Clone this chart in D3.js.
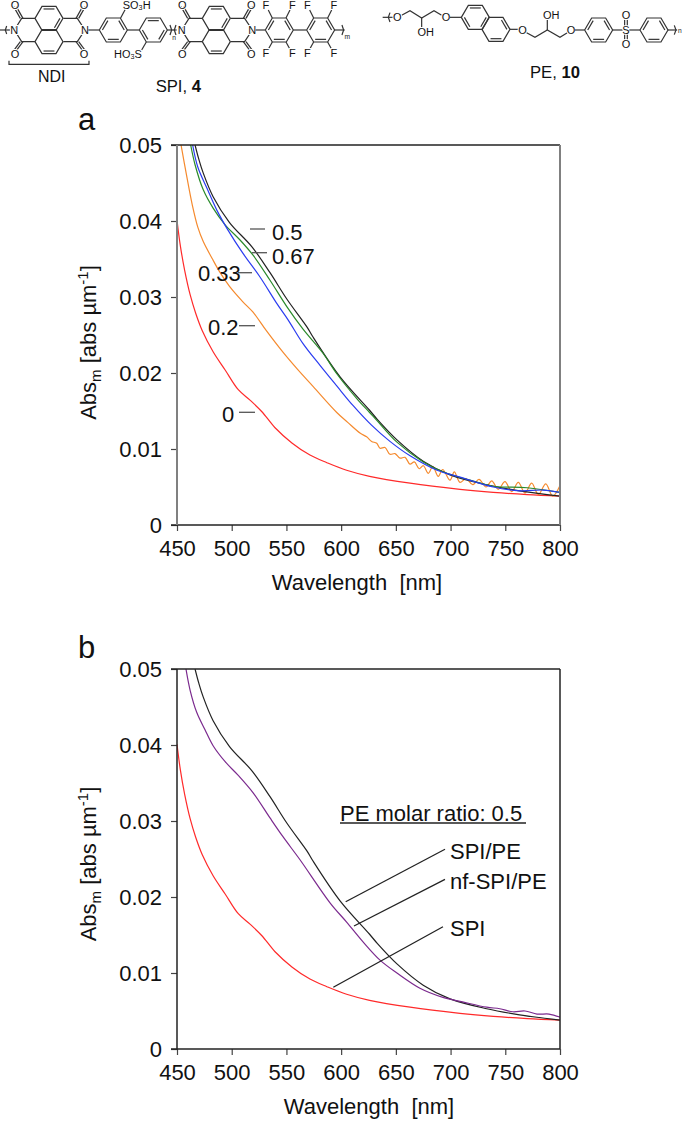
<!DOCTYPE html>
<html>
<head>
<meta charset="utf-8">
<script src="https://cdn.jsdelivr.net/npm/d3@7"></script>
<style>
html, body { margin: 0; padding: 0; background: #fff; }
text { font-family: "Liberation Sans", Arial, sans-serif; fill: #111; white-space: pre; }
</style>
</head>
<body>
<svg id="fig" width="683" height="1121"></svg>
<script>
// values: wavelength [nm] and abs per um
var wl_0 = [450, 453, 457, 462, 467, 473, 483, 494, 506, 517, 527.6, 539.6, 555, 571.5, 587, 605, 626, 663, 708.6, 739, 770, 800];
var abs_0 = [.0401, .0368, .0335, .0303, .0279, .0256, .0228, .0204, .0178, .0164, .0149, .0128, .0108, .0092, .0082, .0072, .0064, .0055, .0047, .0043, .004, .0038];

var wl_02 = [453.7, 459, 464, 469, 474, 482, 489, 498, 510, 519.5, 532, 547, 560, 574.5, 596, 606, 617.2, 623.3, 627.9, 632.5, 635.5, 640.1, 644.6, 649.2, 653.8, 658.4, 662.9, 666.9, 671.4, 675.1, 679.7, 683.7, 688.8, 692.8, 699.5, 703.4, 708.6, 714.1, 720.2, 726, 732.4, 737.6, 743.6, 749.7, 755.9, 761.9, 768, 774.1, 780.2, 787, 793.3, 800];
var abs_02 = [.05, .0458, .0421, .0392, .0373, .0351, .0333, .0314, .0294, .028, .0255, .0227, .0205, .0182, .0148, .0135, .0121, .0116, .011, .01075, .0101, .0102, .0093, .0094, .0088, .0089, .008, .0083, .0074, .0078, .0068, .0077, .0064, .0073, .0059, .007, .0056, .0061, .0053, .006, .005, .0058, .0047, .0057, .0044, .0056, .0042, .0055, .004, .0054, .0038, .0052];

var wl_033 = [464.3, 469, 477.4, 486.5, 496.6, 510, 526, 541, 551.5, 565, 580.7, 596, 611, 628, 644.6, 663, 687.6, 708.6, 739, 763.4, 784.5, 800];
var abs_033 = [.05, .0471, .0443, .0414, .0388, .0358, .0326, .0292, .027, .0239, .021, .0183, .0157, .0131, .011, .0091, .0072, .0063, .005, .0045, .0046, .0043];

var wl_05 = [466.5, 470, 474, 483, 498, 518.5, 535, 550.5, 569, 574, 599, 626, 633, 651, 675, 699.5, 733, 763, 800];
var abs_05 = [.05, .0481, .0463, .0432, .0398, .0366, .0332, .0297, .026, .0248, .0195, .0151, .0139, .0112, .0084, .0066, .0053, .0045, .0038];

var wl_067 = [462.5, 466.5, 474, 483, 494, 507.6, 519.5, 535, 550.5, 565, 583.4, 596, 614.5, 626, 633, 651, 675, 693, 717.7, 739, 770, 800];
var abs_067 = [.05, .0474, .0441, .0417, .0395, .0375, .0355, .0322, .0287, .0258, .0226, .0199, .0166, .0148, .0137, .0109, .0083, .007, .0059, .0051, .0049, .0043];

var wl_nf = [458.2, 462, 468, 475.6, 483, 494, 506, 519.6, 535, 547, 562.4, 590, 605, 620, 635.5, 651, 672, 693, 711, 733, 745, 757, 768, 779, 790, 800];
var abs_nf = [.05, .0472, .0443, .042, .0399, .0378, .036, .0337, .0304, .0279, .0249, .0192, .0167, .0141, .0117, .01, .008, .0068, .0062, .0055, .0053, .0049, .005, .0046, .0046, .0042];

var xTicks = [450, 500, 550, 600, 650, 700, 750, 800];
var yTicks = [0, .01, .02, .03, .04, .05];

var seriesA = [
  { x: wl_0, y: abs_0, color: "#ff2a2a" },
  { x: wl_02, y: abs_02, color: "#f58a2e" },
  { x: wl_05, y: abs_05, color: "#222222" },
  { x: wl_067, y: abs_067, color: "#2a8a2a" },
  { x: wl_033, y: abs_033, color: "#2a3cf0" }
];
var seriesB = [
  { x: wl_0, y: abs_0, color: "#ff2a2a" },
  { x: wl_05, y: abs_05, color: "#222222" },
  { x: wl_nf, y: abs_nf, color: "#7b2a8e" }
];

var svg = d3.select("#fig");
var left = 177, right = 560;

function panel(top, bottom, axisColor, series, clipId) {
  var x = d3.scaleLinear().domain([450, 800]).range([left, right]);
  var y = d3.scaleLinear().domain([0, 0.05]).range([bottom, top]);
  var g = svg.append("g");

  g.append("clipPath").attr("id", clipId).append("rect")
    .attr("x", left).attr("y", top).attr("width", right - left).attr("height", bottom - top);

  var line = d3.line().curve(d3.curveCatmullRom.alpha(0.5))
    .x(function (d) { return x(d[0]); })
    .y(function (d) { return y(d[1]); });

  series.forEach(function (s) {
    g.append("path")
      .datum(d3.zip(s.x, s.y))
      .attr("d", line)
      .attr("fill", "none")
      .attr("stroke", s.color)
      .attr("stroke-width", 1.2)
      .attr("clip-path", "url(#" + clipId + ")");
  });

  var xAxis = d3.axisBottom(x).tickValues(xTicks).tickSize(6).tickPadding(9).tickFormat(d3.format("d"));
  var yAxis = d3.axisLeft(y).tickValues(yTicks).tickSize(6).tickPadding(9)
    .tickFormat(function (d) { return d === 0 ? "0" : d3.format(".2f")(d); });

  var gx = g.append("g").attr("transform", "translate(0," + bottom + ")").call(xAxis);
  var gy = g.append("g").attr("transform", "translate(" + left + ",0)").call(yAxis);
  [gx, gy].forEach(function (a) {
    a.select(".domain").remove();
    a.selectAll("line").attr("stroke", "#444").attr("stroke-width", 1.2);
    a.selectAll("text").style("font-size", "22px").style("font-family", '"Liberation Sans", Arial, sans-serif').attr("fill", "#111");
  });

  // frame
  g.append("line").attr("x1", left - 6).attr("x2", right).attr("y1", top).attr("y2", top).attr("stroke", "#222").attr("stroke-width", 1.5);
  g.append("line").attr("x1", left - 6).attr("x2", right).attr("y1", bottom).attr("y2", bottom).attr("stroke", "#222").attr("stroke-width", 1.5);
  g.append("line").attr("x1", left).attr("x2", left).attr("y1", top).attr("y2", bottom).attr("stroke", axisColor).attr("stroke-width", axisColor === "#222" ? 1.5 : 2);
  g.append("line").attr("x1", right).attr("x2", right).attr("y1", top).attr("y2", bottom).attr("stroke", axisColor).attr("stroke-width", axisColor === "#222" ? 1.5 : 2);
}

function label(str, x, y, size, anchor) {
  return svg.append("text").attr("x", x).attr("y", y)
    .attr("font-size", size).attr("text-anchor", anchor || "start").text(str);
}

function yTitle(cx, cy) {
  var t = svg.append("text")
    .attr("transform", "translate(" + cx + "," + cy + ") rotate(-90)")
    .attr("text-anchor", "middle").attr("font-size", 22);
  t.append("tspan").text("Abs");
  t.append("tspan").attr("font-size", 15).attr("dy", 5).text("m");
  t.append("tspan").attr("dy", -5).text(" [abs µm");
  t.append("tspan").attr("font-size", 15).attr("dy", -8).text("-1");
  t.append("tspan").attr("dy", 8).text("]");
}

function tick(x1, y1, x2, y2, color) {
  svg.append("line").attr("x1", x1).attr("y1", y1).attr("x2", x2).attr("y2", y2)
    .attr("stroke", color).attr("stroke-width", 1.3);
}

panel(145, 525, "#808080", seriesA, "clipA");
panel(669, 1049, "#222", seriesB, "clipB");

label("a", 78, 130, 31);
label("b", 78, 658, 31);

yTitle(96, 342.5);
yTitle(96, 864);
label("Wavelength  [nm]", 357, 590, 22, "middle");
label("Wavelength  [nm]", 369, 1114, 22, "middle");

// panel a labels
tick(250, 229, 265, 229, "#555"); label("0.5", 272, 240, 22);
tick(252, 252.7, 267, 252.7, "#555"); label("0.67", 272, 264, 22);
tick(238, 272.7, 252, 272.7, "#555"); label("0.33", 198, 281, 22);
tick(239, 325.7, 255, 325.7, "#555"); label("0.2", 208, 335, 22);
tick(239, 412.3, 255, 412.3, "#555"); label("0", 222, 422, 22);

// panel b labels
label("PE molar ratio: 0.5", 340, 821, 22);
tick(340, 823, 526, 823, "#222");
tick(445, 849.3, 345.7, 901.7, "#222"); label("SPI/PE", 450, 859, 22);
tick(445, 879.3, 354, 926, "#222"); label("nf-SPI/PE", 450, 889, 22);
tick(443, 926.7, 333.3, 987.3, "#222"); label("SPI", 450, 936, 22);

// structures, drawn in the 3x zoom coordinates
var chem = svg.append("g").attr("transform", "scale(0.3333)");
var chemPe = svg.append("g").attr("transform", "translate(340,0) scale(0.3333)");

function bonds(g, pts) {
  g.append("path")
    .attr("d", d3.line()(pts))
    .attr("fill", "none").attr("stroke", "#333").attr("stroke-width", 3.6);
}
function atom(g, str, x, y, size) {
  return g.append("text").attr("x", x).attr("y", y)
    .attr("font-size", size || 33).attr("text-anchor", "middle").attr("dominant-baseline", "central")
    .attr("fill", "#333")
    .style("paint-order", "stroke").style("stroke", "#fff").style("stroke-width", 6).text(str);
}
// flat-sided ring, double bonds drawn inside on the listed edges
function ring(g, cx, cy, doubles) {
  var r = 42, h = 36;
  var p = [[cx - r, cy], [cx - r / 2, cy - h], [cx + r / 2, cy - h], [cx + r, cy], [cx + r / 2, cy + h], [cx - r / 2, cy + h]];
  bonds(g, p.concat([p[0]]));
  doubles.forEach(function (e) {
    var a = p[e], b = p[(e + 1) % 6];
    var f = 0.78;
    bonds(g, [[cx + (a[0] - cx) * f, cy + (a[1] - cy) * f], [cx + (b[0] - cx) * f, cy + (b[1] - cy) * f]]);
  });
}
function ndi(g, dx) {
  ring(g, 147 + dx, 55, [1, 3]);
  ring(g, 147 + dx, 125, [4]);
  bonds(g, [[105 + dx, 55], [65 + dx, 55], [43 + dx, 90], [65 + dx, 125], [105 + dx, 125]]);
  bonds(g, [[190 + dx, 55], [232 + dx, 55], [255 + dx, 90], [232 + dx, 125], [190 + dx, 125]]);
  [[65, 55, 45, 20], [232, 55, 252, 20], [65, 125, 45, 152], [232, 125, 252, 152]].forEach(function (o) {
    bonds(g, [[o[0] + dx - 4, o[1]], [o[2] + dx - 4, o[3]]]);
    bonds(g, [[o[0] + dx + 4, o[1]], [o[2] + dx + 4, o[3]]]);
    atom(g, "O", o[2] + dx, o[3] < 50 ? o[3] - 6 : o[3] + 10);
  });
  atom(g, "N", 43 + dx, 90);
  atom(g, "N", 255 + dx, 90);
}

bonds(chem, [[0, 90], [30, 90]]);
bonds(chem, [[20, 78], [16, 90], [20, 102]]);
ndi(chem, 0);
bonds(chem, [[265, 90], [298, 90]]);
ring(chem, 340, 90, [0, 2, 4]);
bonds(chem, [[382, 90], [418, 90]]);
ring(chem, 460, 90, [1, 3, 5]);
bonds(chem, [[362, 54], [376, 28]]);
bonds(chem, [[439, 126], [425, 150]]);
var so3 = atom(chem, "", 410, 15);
so3.append("tspan").text("SO");
so3.append("tspan").attr("font-size", 22).attr("dy", 7).text("3");
so3.append("tspan").attr("dy", -7).text("H");
var ho3 = atom(chem, "", 384, 162);
ho3.append("tspan").text("HO");
ho3.append("tspan").attr("font-size", 22).attr("dy", 7).text("3");
ho3.append("tspan").attr("dy", -7).text("S");
bonds(chem, [[502, 90], [530, 90]]);
bonds(chem, [[510, 75], [515, 90], [510, 105]]);
bonds(chem, [[528, 75], [523, 90], [528, 105]]);
atom(chem, "n", 522, 112, 20);
ndi(chem, 502);
bonds(chem, [[767, 90], [797, 90]]);
ring(chem, 838, 90, [0, 2, 4]);
bonds(chem, [[880, 90], [920, 90]]);
ring(chem, 962, 90, [0, 2, 4]);
bonds(chem, [[1004, 90], [1034, 90]]);
[817, 858, 941, 983].forEach(function (fx, i) {
  var sx = i % 2 ? 1 : -1;
  bonds(chem, [[fx, 54], [fx + sx * 12, 30]]);
  bonds(chem, [[fx, 126], [fx + sx * 12, 148]]);
  atom(chem, "F", fx + sx * 19, 14);
  atom(chem, "F", fx + sx * 19, 160);
});
bonds(chem, [[1026, 75], [1031, 90], [1026, 105]]);
atom(chem, "m", 1042, 110, 20);
// NDI bracket and captions
bonds(chem, [[27, 182], [27, 193], [267, 193], [267, 182]]);
atom(chem, "NDI", 155, 229, 48).style("stroke", "none").attr("fill", "#222");
var spi = atom(chem, "", 535, 258, 50).style("stroke", "none").attr("fill", "#222");
spi.append("tspan").text("SPI, ");
spi.append("tspan").attr("font-weight", "bold").text("4");

// PE unit
bonds(chemPe, [[128, 52], [160, 52]]);
bonds(chemPe, [[150, 38], [145, 52], [150, 66]]);
bonds(chemPe, [[185, 46], [210, 32], [245, 54], [282, 32], [305, 46]]);
bonds(chemPe, [[245, 54], [245, 82]]);
atom(chemPe, "O", 172, 52);
atom(chemPe, "O", 318, 52);
atom(chemPe, "OH", 257, 95);
bonds(chemPe, [[330, 52], [365, 52]]);
ring(chemPe, 406, 52, [1, 3, 5]);
ring(chemPe, 468, 88, [2, 4]);
bonds(chemPe, [[510, 88], [535, 88]]);
atom(chemPe, "O", 548, 90);
bonds(chemPe, [[560, 98], [585, 112], [622, 90], [660, 112], [682, 98]]);
bonds(chemPe, [[622, 90], [622, 60]]);
atom(chemPe, "OH", 634, 46);
atom(chemPe, "O", 693, 90);
bonds(chemPe, [[705, 90], [735, 90]]);
ring(chemPe, 776, 90, [0, 2, 4]);
bonds(chemPe, [[818, 90], [848, 90]]);
atom(chemPe, "S", 858, 90);
bonds(chemPe, [[868, 90], [900, 90]]);
bonds(chemPe, [[854, 76], [854, 58]]);
bonds(chemPe, [[862, 76], [862, 58]]);
bonds(chemPe, [[854, 104], [854, 122]]);
bonds(chemPe, [[862, 104], [862, 122]]);
atom(chemPe, "O", 858, 46);
atom(chemPe, "O", 858, 132);
ring(chemPe, 942, 90, [0, 2, 4]);
bonds(chemPe, [[984, 90], [1012, 90]]);
bonds(chemPe, [[1003, 76], [1008, 90], [1003, 104]]);
atom(chemPe, "n", 1020, 92, 20);
var pe = atom(chemPe, "", 645, 215, 50).style("stroke", "none").attr("fill", "#222");
pe.append("tspan").text("PE, ");
pe.append("tspan").attr("font-weight", "bold").text("10");
</script>
</body>
</html>
